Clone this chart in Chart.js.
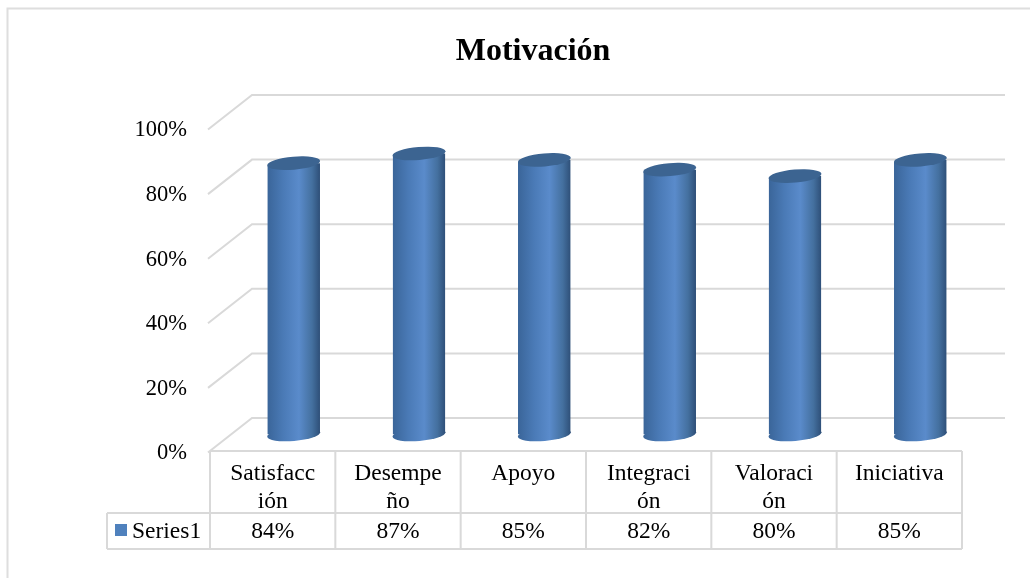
<!DOCTYPE html>
<html>
<head>
<meta charset="utf-8">
<title>Motivación</title>
<script src="https://cdn.jsdelivr.net/npm/chart.js@4"></script>
<style>
  html, body { margin: 0; padding: 0; background: #fff; overflow: hidden; }
  canvas { display: block; }
</style>
</head>
<body>
<canvas id="chart" width="1030" height="578"></canvas>
<script>
const chartTitle = 'Motivación';
const seriesName = 'Series1';
const categories = [['Satisfacc', 'ión'], ['Desempe', 'ño'], ['Apoyo'], ['Integraci', 'ón'], ['Valoraci', 'ón'], ['Iniciativa']];
const seriesValues = [0.84, 0.87, 0.85, 0.82, 0.80, 0.85];

const FONT = '"Liberation Serif", "Times New Roman", serif';
const GRID = '#d9d9d9';
const BAR_SHARE = 0.42;
const DEPTH_X = 42, DEPTH_Y = 33;     // front plane to back wall
const ROW_Y = [451, 513, 549];        // data table rows
const TABLE_LEFT = 107;
const CAP_RY = 6.5, CAP_TILT = 0.085; // cylinder ends are slightly tilted ellipses

const pct = v => Math.round(v * 100) + '%';

function barGradient(ctx, x, w) {
  const g = ctx.createLinearGradient(x - w / 2, 0, x + w / 2, 0);
  g.addColorStop(0, '#3a6599');
  g.addColorStop(0.3, '#4a7ab6');
  g.addColorStop(0.6, '#5a8bcb');
  g.addColorStop(0.85, '#44709f');
  g.addColorStop(1, '#2e4f78');
  return g;
}

// frame, 3D walls and the data table go behind the bars
const backdrop = {
  id: 'backdrop',
  beforeDatasetsDraw(chart) {
    const { ctx, scales: { x, y } } = chart;
    ctx.save();
    ctx.strokeStyle = '#dedede';
    ctx.lineWidth = 2;
    ctx.beginPath();
    ctx.moveTo(7.5, 578);
    ctx.lineTo(7.5, 8.5);
    ctx.lineTo(1030, 8.5);
    ctx.stroke();

    ctx.strokeStyle = GRID;
    y.ticks.forEach(t => {
      const py = y.getPixelForValue(t.value);
      ctx.beginPath();
      ctx.moveTo(x.left - 2, py + 1.5);
      ctx.lineTo(x.left + DEPTH_X, py - DEPTH_Y);
      ctx.lineTo(x.right + DEPTH_X + 1, py - DEPTH_Y);
      ctx.stroke();
    });

    // data table
    ctx.beginPath();
    ctx.moveTo(x.left, ROW_Y[0]);
    ctx.lineTo(x.right, ROW_Y[0]);
    ROW_Y.slice(1).forEach(r => {
      ctx.moveTo(TABLE_LEFT, r);
      ctx.lineTo(x.right, r);
    });
    ctx.moveTo(TABLE_LEFT, ROW_Y[1]);
    ctx.lineTo(TABLE_LEFT, ROW_Y[2]);
    const step = (x.right - x.left) / categories.length;
    categories.forEach((_, i) => {
      const cx = x.left + step * i;
      ctx.moveTo(cx, ROW_Y[0]);
      ctx.lineTo(cx, ROW_Y[2]);
    });
    ctx.moveTo(x.right, ROW_Y[0]);
    ctx.lineTo(x.right, ROW_Y[2]);
    ctx.stroke();

    ctx.fillStyle = '#4f81bd';
    ctx.fillRect(115, 524, 12, 12);
    ctx.fillStyle = '#000';
    ctx.font = '23.5px ' + FONT;
    ctx.textBaseline = 'middle';
    ctx.textAlign = 'left';
    ctx.fillText(seriesName, 132, 532);
    ctx.textAlign = 'center';
    seriesValues.forEach((v, i) => ctx.fillText(pct(v), x.getPixelForValue(i), 532));
    ctx.restore();

    // bars sit half way back between the front plane and the wall
    ctx.save();
    ctx.translate(DEPTH_X / 2, -DEPTH_Y / 2);

    // cut the square bar corners to the tilted ends
    ctx.save();
    const dy = Math.sin(CAP_TILT) * (x.right - x.left) / categories.length * BAR_SHARE / 2;
    ctx.beginPath();
    chart.getDatasetMeta(0).data.forEach(bar => {
      const l = bar.x - bar.width / 2, r = bar.x + bar.width / 2;
      ctx.moveTo(l, bar.y + dy);
      ctx.lineTo(r, bar.y - dy);
      ctx.lineTo(r, bar.base - dy);
      ctx.lineTo(l, bar.base + dy);
      ctx.closePath();
    });
    ctx.clip();
  },
  afterDatasetsDraw(chart) {
    const { ctx } = chart;
    ctx.restore();
    chart.getDatasetMeta(0).data.forEach(bar => {
      const rx = bar.width / 2 + 0.2;
      ctx.fillStyle = barGradient(ctx, bar.x, bar.width);
      ctx.beginPath();
      ctx.ellipse(bar.x, bar.base, rx, CAP_RY, -CAP_TILT, 0, Math.PI * 2);
      ctx.fill();
      ctx.fillStyle = '#3c6491';
      ctx.beginPath();
      ctx.ellipse(bar.x, bar.y, rx, CAP_RY, -CAP_TILT, 0, Math.PI * 2);
      ctx.fill();
    });
    ctx.restore();
  }
};

new Chart(document.getElementById('chart'), {
  type: 'bar',
  data: {
    labels: categories,
    datasets: [{
      label: seriesName,
      data: seriesValues,
      barPercentage: BAR_SHARE,
      categoryPercentage: 1,
      backgroundColor(c) {
        const x = c.chart.scales.x;
        const px = x ? x.getPixelForValue(c.dataIndex) : NaN;
        if (!Number.isFinite(px)) return '#4f81bd';
        const w = (x.right - x.left) / categories.length * BAR_SHARE;
        return barGradient(c.chart.ctx, px, w);
      }
    }]
  },
  plugins: [backdrop],
  options: {
    responsive: false,
    animation: false,
    layout: { padding: { left: 104, right: 68, top: 0, bottom: 0 } },
    plugins: {
      legend: { display: false },
      tooltip: { enabled: false },
      title: {
        display: true,
        text: chartTitle,
        color: '#000',
        font: { family: FONT, size: 32, weight: 'bold', lineHeight: 1.2 },
        padding: { top: 33, bottom: 56.6 }
      }
    },
    scales: {
      x: {
        grid: { display: false },
        border: { display: false },
        afterFit(s) { s.height = 127; },
        ticks: {
          color: '#000',
          padding: 1,
          autoSkip: false,
          maxRotation: 0,
          minRotation: 0,
          font: { family: FONT, size: 23.5, lineHeight: 1.2 }
        }
      },
      y: {
        min: 0,
        max: 1,
        grid: { display: false },
        border: { display: false },
        afterFit(s) { s.width = 106; },
        ticks: {
          stepSize: 0.2,
          color: '#000',
          padding: 15,
          // empty first line nudges the label down a little, as in the original
          callback: v => ['', pct(v)],
          font: { family: FONT, size: 22.5, lineHeight: 0.22 }
        }
      }
    }
  }
});
</script>
</body>
</html>
